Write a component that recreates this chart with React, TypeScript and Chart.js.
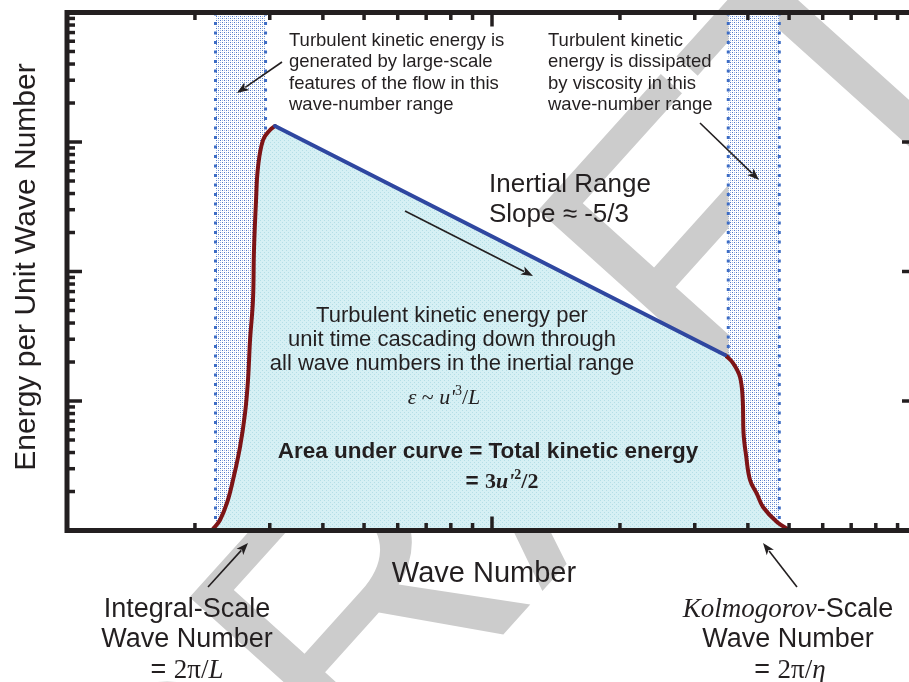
import React, { useEffect, useRef } from "react";
import { Chart, registerables } from "chart.js";

Chart.register(...registerables);

// ---------- data ----------
const xRange = [1, 100];
const yRange = [1, 10000];
const xMajorTicks = [10];
const xMinorTicks = [2, 3, 4, 5, 6, 7, 8, 9, 20, 30, 40, 50, 60, 70, 80, 90];
const yMajorTicks = [10, 100, 1000];
const yMinorTicks = [
  2, 3, 4, 5, 6, 7, 8, 9,
  20, 30, 40, 50, 60, 70, 80, 90,
  200, 300, 400, 500, 600, 700, 800, 900,
  2000, 3000, 4000, 5000, 6000, 7000, 8000, 9000,
];

const risingWaveNumber = [2.183, 2.206, 2.291, 2.379, 2.458, 2.553, 2.624, 2.666, 2.696, 2.739, 2.754, 2.785, 2.815, 2.892, 3.004, 3.086];
const risingEnergy = [1.0, 1.027, 1.205, 1.631, 2.455, 4.41, 8.08, 14.5, 29.6, 60.3, 146.6, 356.5, 641, 1036, 1238, 1329];
const inertialWaveNumber = [3.086, 35.34];
const inertialEnergy = [1329, 22.65];
const fallingWaveNumber = [35.34, 36.91, 38.33, 38.9, 39.07, 39.6, 40.47, 42.03, 43.42, 46.83, 50.25];
const fallingEnergy = [22.65, 19.65, 15.32, 10.18, 5.66, 3.83, 2.455, 1.913, 1.519, 1.163, 1.0];
const productionBand = [2.236, 2.932];
const dissipationBand = [35.97, 47.42];

// ---------- text ----------
const yTitle = "Energy per Unit Wave Number";
const xTitle = "Wave Number";
const productionNote = ["Turbulent kinetic energy is", "generated by large-scale", "features of the flow in this", "wave-number range"];
const dissipationNote = ["Turbulent kinetic", "energy is dissipated", "by viscosity in this", "wave-number range"];
const inertialNote = ["Inertial Range", "Slope \u2248 -5/3"];
const cascadeNote = ["Turbulent kinetic energy per", "unit time cascading down through", "all wave numbers in the inertial range"];
const areaNote = "Area under curve = Total kinetic energy";
const integralLabel = ["Integral-Scale", "Wave Number"];
const kolmoLabel = ["Kolmogorov", "-Scale", "Wave Number"];
const watermark = "DRAFT";

// ---------- styles ----------
const SANS = '"Liberation Sans", Arial, Helvetica, sans-serif';
const SERIF = '"Liberation Serif", "Times New Roman", serif';
const INK = "#231f20";
const RED = "#7d1416";
const BLUE = "#2f47a0";
const DOT_BLUE = "#3d6cc4";

type Run = { t: string; f: string; dy?: number };

function drawRuns(ctx: CanvasRenderingContext2D, parts: Run[], x: number, y: number, align: "left" | "center") {
  let total = 0;
  const widths = parts.map((p) => {
    ctx.font = p.f;
    const w = ctx.measureText(p.t).width;
    total += w;
    return w;
  });
  let cx = align === "center" ? x - total / 2 : x;
  ctx.textAlign = "left";
  ctx.textBaseline = "alphabetic";
  parts.forEach((p, i) => {
    ctx.font = p.f;
    ctx.fillText(p.t, cx, y + (p.dy || 0));
    cx += widths[i];
  });
}

function drawArrow(ctx: CanvasRenderingContext2D, x1: number, y1: number, x2: number, y2: number) {
  const ang = Math.atan2(y2 - y1, x2 - x1);
  const hl = 12;
  const hw = 4.5;
  const bx = x2 - hl * Math.cos(ang);
  const by = y2 - hl * Math.sin(ang);
  ctx.beginPath();
  ctx.moveTo(x1, y1);
  ctx.lineTo(bx + 2 * Math.cos(ang), by + 2 * Math.sin(ang));
  ctx.stroke();
  ctx.beginPath();
  ctx.moveTo(x2, y2);
  ctx.lineTo(bx + hw * Math.sin(ang), by - hw * Math.cos(ang));
  ctx.lineTo(bx + 3 * Math.cos(ang), by + 3 * Math.sin(ang));
  ctx.lineTo(bx - hw * Math.sin(ang), by + hw * Math.cos(ang));
  ctx.closePath();
  ctx.fill();
}

function makePattern(size: number, base: string, dots: [number, number, string][]) {
  const c = document.createElement("canvas");
  c.width = size;
  c.height = size;
  const g = c.getContext("2d")!;
  g.fillStyle = base;
  g.fillRect(0, 0, size, size);
  dots.forEach(([x, y, col]) => {
    g.fillStyle = col;
    g.fillRect(x, y, 1, 1);
  });
  const ctx = document.createElement("canvas").getContext("2d")!;
  return ctx.createPattern(c, "repeat")!;
}

const pts = (xs: number[], ys: number[]) => xs.map((x, i) => ({ x, y: ys[i] }));

const decorPlugin = {
  id: "decor",
  beforeDatasetsDraw(chart: any) {
    const ctx: CanvasRenderingContext2D = chart.ctx;
    ctx.save();
    ctx.translate(179.5, 994.1);
    ctx.rotate((-48 * Math.PI) / 180);
    ctx.fillStyle = "rgb(204,204,204)";
    ctx.font = `375px ${SANS}`;
    ctx.textAlign = "left";
    ctx.textBaseline = "alphabetic";
    ctx.fillText(watermark, 0, 0);
    ctx.restore();
  },
  afterDatasetsDraw(chart: any) {
    const ctx: CanvasRenderingContext2D = chart.ctx;
    const a = chart.chartArea;
    const xs = chart.scales.x;
    const ys = chart.scales.y;
    ctx.save();
    ctx.strokeStyle = INK;
    ctx.lineWidth = 5;
    ctx.lineJoin = "miter";
    ctx.strokeRect(a.left, a.top, a.right - a.left, a.bottom - a.top);
    ctx.lineWidth = 3.5;
    const seg = (x1: number, y1: number, x2: number, y2: number) => {
      ctx.beginPath();
      ctx.moveTo(x1, y1);
      ctx.lineTo(x2, y2);
      ctx.stroke();
    };
    const xt = (v: number, len: number) => {
      const p = xs.getPixelForValue(v);
      seg(p, a.bottom, p, a.bottom - len);
      seg(p, a.top, p, a.top + len);
    };
    const yt = (v: number, len: number) => {
      const p = ys.getPixelForValue(v);
      seg(a.left, p, a.left + len, p);
      seg(a.right, p, a.right - len, p);
    };
    xMinorTicks.forEach((v) => xt(v, 7.5));
    xMajorTicks.forEach((v) => xt(v, 14));
    yMinorTicks.forEach((v) => yt(v, 8));
    yMajorTicks.forEach((v) => yt(v, 15));
    ctx.restore();
  },
  afterDraw(chart: any) {
    const ctx: CanvasRenderingContext2D = chart.ctx;
    ctx.save();
    ctx.fillStyle = INK;
    ctx.strokeStyle = INK;

    // y title
    ctx.save();
    ctx.translate(35, 267);
    ctx.rotate(-Math.PI / 2);
    ctx.font = `30px ${SANS}`;
    ctx.textAlign = "center";
    ctx.textBaseline = "alphabetic";
    ctx.fillText(yTitle, 0, 0);
    ctx.restore();

    // x title
    drawRuns(ctx, [{ t: xTitle, f: `29px ${SANS}` }], 484, 582, "center");

    // bottom labels
    const f27 = `27px ${SANS}`;
    drawRuns(ctx, [{ t: integralLabel[0], f: f27 }], 187, 617, "center");
    drawRuns(ctx, [{ t: integralLabel[1], f: f27 }], 187, 647, "center");
    drawRuns(ctx, [{ t: "= ", f: f27 }, { t: "2\u03c0/", f: `27px ${SERIF}` }, { t: "L", f: `italic 27px ${SERIF}` }], 187, 678, "center");

    drawRuns(ctx, [{ t: kolmoLabel[0], f: `italic 27px ${SERIF}` }, { t: kolmoLabel[1], f: f27 }], 788, 617, "center");
    drawRuns(ctx, [{ t: kolmoLabel[2], f: f27 }], 788, 647, "center");
    drawRuns(ctx, [{ t: "= ", f: f27 }, { t: "2\u03c0/", f: `27px ${SERIF}` }, { t: "\u03b7", f: `italic 27px ${SERIF}` }], 790, 678, "center");

    // notes
    const f18 = `18.5px ${SANS}`;
    const noteBase = [45.5, 67, 88.5, 110];
    productionNote.forEach((s, i) => drawRuns(ctx, [{ t: s, f: f18 }], 289, noteBase[i], "left"));
    dissipationNote.forEach((s, i) => drawRuns(ctx, [{ t: s, f: f18 }], 548, noteBase[i], "left"));

    inertialNote.forEach((s, i) => drawRuns(ctx, [{ t: s, f: `26px ${SANS}` }], 489, [192, 222][i], "left"));

    cascadeNote.forEach((s, i) => drawRuns(ctx, [{ t: s, f: `22px ${SANS}` }], 452, [322, 346, 370][i], "center"));

    drawRuns(
      ctx,
      [
        { t: "\u03b5", f: `italic 22px ${SERIF}` },
        { t: " ~ ", f: `22px ${SERIF}` },
        { t: "u", f: `italic 22px ${SERIF}` },
        { t: "'", f: `italic 22px ${SERIF}` },
        { t: "3", f: `14px ${SERIF}`, dy: -9 },
        { t: "/", f: `22px ${SERIF}` },
        { t: "L", f: `italic 22px ${SERIF}` },
      ],
      444,
      404,
      "center"
    );

    drawRuns(ctx, [{ t: areaNote, f: `bold 22.5px ${SANS}` }], 488, 458, "center");
    drawRuns(
      ctx,
      [
        { t: "= ", f: `bold 22.5px ${SANS}` },
        { t: "3", f: `bold 22px ${SERIF}` },
        { t: "u", f: `bold italic 22px ${SERIF}` },
        { t: "'", f: `bold italic 22px ${SERIF}` },
        { t: "2", f: `bold 14px ${SERIF}`, dy: -9 },
        { t: "/2", f: `bold 22px ${SERIF}` },
      ],
      502,
      488,
      "center"
    );

    // arrows
    ctx.lineWidth = 1.6;
    drawArrow(ctx, 282, 62, 237, 93);
    drawArrow(ctx, 700, 123, 759, 180);
    drawArrow(ctx, 405, 211, 533, 276);
    drawArrow(ctx, 208, 587, 248, 543);
    drawArrow(ctx, 797, 587, 763, 543);
    ctx.restore();
  },
};

export default function App() {
  const ref = useRef<HTMLCanvasElement | null>(null);
  useEffect(() => {
    if (!ref.current) return;
    const cyan = makePattern(4, "rgb(214,240,244)", [
      [0, 0, "rgb(180,222,230)"],
      [2, 2, "rgb(180,222,230)"],
    ]);
    const stipple = makePattern(4, "#ffffff", [
      [0, 0, "rgb(80,120,200)"],
      [2, 2, "rgb(80,120,200)"],
      [2, 0, "rgb(165,188,230)"],
      [0, 2, "rgb(165,188,230)"],
    ]);
    const bandFill = (b: number[]) => ({
      data: [
        { x: b[0], y: yRange[1] },
        { x: b[1], y: yRange[1] },
      ],
      borderWidth: 0,
      fill: "start",
      backgroundColor: stipple,
      pointRadius: 0,
      order: 10,
    });
    const edge = (v: number) => ({
      data: [
        { x: v, y: yRange[1] },
        { x: v, y: yRange[0] },
      ],
      borderColor: DOT_BLUE,
      borderWidth: 3,
      borderDash: [3, 6.5],
      fill: false,
      pointRadius: 0,
      order: 9,
    });
    const allW = [...risingWaveNumber, ...inertialWaveNumber.slice(1), ...fallingWaveNumber.slice(1)];
    const allE = [...risingEnergy, ...inertialEnergy.slice(1), ...fallingEnergy.slice(1)];
    const chart = new Chart(ref.current, {
      type: "line",
      data: {
        datasets: [
          bandFill(productionBand),
          bandFill(dissipationBand),
          edge(productionBand[0]),
          edge(productionBand[1]),
          edge(dissipationBand[0]),
          edge(dissipationBand[1]),
          {
            data: pts(allW, allE),
            borderWidth: 0,
            fill: "start",
            backgroundColor: cyan,
            tension: 0,
            pointRadius: 0,
            order: 5,
          },
          {
            data: pts(risingWaveNumber, risingEnergy),
            borderColor: RED,
            borderWidth: 4,
            borderCapStyle: "round",
            fill: "start",
            backgroundColor: cyan,
            tension: 0.4,
            pointRadius: 0,
            order: 3,
          },
          {
            data: pts(fallingWaveNumber, fallingEnergy),
            borderColor: RED,
            borderWidth: 4,
            borderCapStyle: "round",
            fill: "start",
            backgroundColor: cyan,
            tension: 0.4,
            pointRadius: 0,
            order: 3,
          },
          {
            data: pts(inertialWaveNumber, inertialEnergy),
            borderColor: BLUE,
            borderWidth: 4,
            borderCapStyle: "round",
            fill: "start",
            backgroundColor: cyan,
            tension: 0,
            pointRadius: 0,
            order: 2,
          },
        ] as any,
      },
      options: {
        animation: false,
        responsive: false,
        devicePixelRatio: 1,
        layout: { padding: { left: 67, top: 12.5, right: 43, bottom: 151.5 } },
        scales: {
          x: { type: "logarithmic", min: xRange[0], max: xRange[1], display: false },
          y: { type: "logarithmic", min: yRange[0], max: yRange[1], display: false },
        },
        plugins: { legend: { display: false }, tooltip: { enabled: false } },
        elements: { point: { radius: 0 } },
      } as any,
      plugins: [decorPlugin],
    });
    return () => chart.destroy();
  }, []);
  return (
    <div style={{ position: "fixed", left: 0, top: 0, width: 909, height: 682, overflow: "hidden", background: "#fff" }}>
      <canvas ref={ref} width={960} height={682} style={{ display: "block", width: 960, height: 682 }} />
    </div>
  );
}
